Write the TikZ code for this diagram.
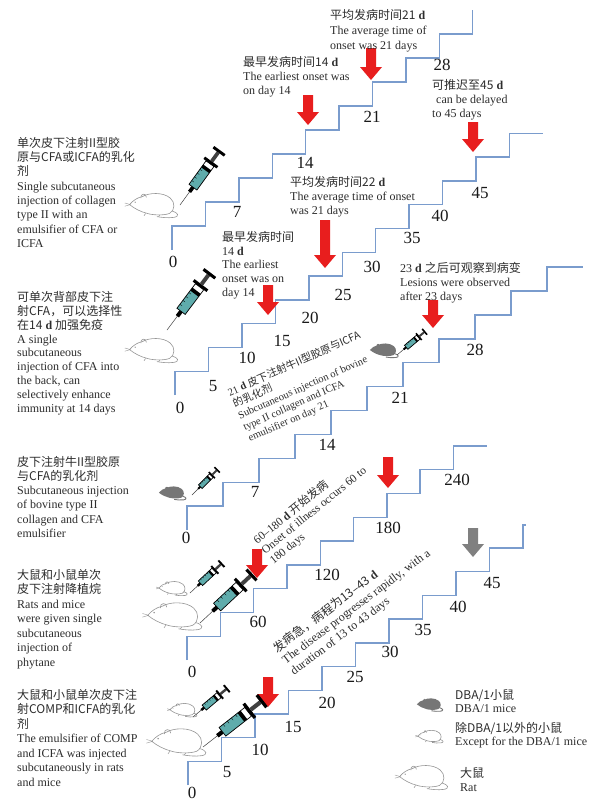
\documentclass[tikz,border=0pt]{standalone}
\usepackage{fontspec}
\setmainfont{Liberation Serif}
\newfontfamily\cjkfont{Noto Sans CJK SC}
\newcommand\zhtext[1]{{\cjkfont #1}}

\definecolor{stairblue}{RGB}{122,156,205}
\definecolor{arrowred}{RGB}{232,30,30}
\definecolor{arrowgray}{RGB}{128,128,128}
\definecolor{txtgray}{RGB}{45,45,45}
\definecolor{numcol}{RGB}{25,25,25}
\definecolor{syrteal}{RGB}{95,172,172}
\definecolor{mouseline}{RGB}{150,150,150}
\definecolor{mousedark}{RGB}{118,118,118}

\tikzset{
  stair/.style={draw=stairblue, line width=1.4pt, line join=miter},
  txt/.style={font=\fontsize{12}{14.3}\selectfont, text=txtgray, inner sep=0pt, anchor=north west, align=left},
  rottxt/.style={font=\fontsize{10.5}{12.5}\selectfont, text=txtgray, inner sep=0pt, anchor=north west, align=left},
  num/.style={font=\fontsize{17}{17}\selectfont, text=numcol, inner sep=0pt},
  blockarrow/.pic={
    \fill (-5,0) -- (5,0) -- (5,#1-13) -- (11,#1-13) -- (0,#1) -- (-11,#1-13) -- (-5,#1-13) -- cycle;
  },
  syringe/.pic={
    \draw[line width=0.5pt, black!75] (0,0) -- (15,0);
    \fill[black] (14,-1.6) rectangle (19,1.6);
    \fill[syrteal] (19,-4.2) rectangle (38,4.2);
    \fill[white] (38,-4.2) rectangle (44,4.2);
    \foreach \t in {23,27,31,35} \draw[black, line width=0.3pt] (\t,-4.2) -- (\t,-2);
    \draw[black, line width=0.7pt] (19,-4.2) rectangle (44,4.2);
    \fill[black] (37,-4.2) rectangle (40,4.2);
    \fill[black] (44,-7) rectangle (46.5,7);
    \fill[black!75] (46.5,-1.6) rectangle (56,1.6);
    \fill[black] (56,-6) rectangle (58.5,6);
  },
  ratshape/.pic={
    \draw[mouseline, fill=white, line width=0.6pt] (2,17) .. controls (6,12) and (12,8) .. (18,7)
      .. controls (26,2) and (44,1) .. (53,9) .. controls (59,14) and (59,24) .. (52,28)
      .. controls (44,31) and (30,30) .. (24,28) .. controls (16,26) and (8,22) .. (2,17) -- cycle;
    \draw[mouseline, line width=0.6pt] (16,9) .. controls (15,3) and (23,2) .. (23,8);
    \fill[mouseline] (9,14) circle (0.9);
    \draw[mouseline, line width=0.4pt] (3,17) -- (-4,15) (3,17) -- (-4,19);
    \draw[mouseline, line width=0.6pt] (55,25) .. controls (63,27) and (65,32) .. (57,33)
      .. controls (50,34) and (42,33) .. (36,32);
    \draw[mouseline, line width=0.5pt] (22,28) -- (20,31) (40,30) -- (38,32);
  },
  darkmouse/.pic={
    \fill[mousedark] (2,17) .. controls (6,12) and (12,8) .. (18,7)
      .. controls (26,2) and (44,1) .. (53,9) .. controls (59,14) and (59,24) .. (52,28)
      .. controls (44,31) and (30,30) .. (24,28) .. controls (16,26) and (8,22) .. (2,17) -- cycle;
    \fill[mousedark] (16,9) .. controls (15,3) and (23,2) .. (23,8) -- cycle;
    \draw[mousedark, line width=0.9pt] (55,25) .. controls (63,27) and (65,32) .. (57,33)
      .. controls (50,34) and (42,33) .. (36,32);
  }
}

\begin{document}
\begin{tikzpicture}[x=1pt,y=-1pt]
\useasboundingbox (0,0) rectangle (592,803);
\fill[white] (0,0) rectangle (592,803);

% ---------- staircases ----------
\draw[stair] (172,250) foreach \k in {1,...,9}{ -- ++(0,-24) -- ++(33.4,0) } -- ++(0,-24);
\draw[stair] (175,395) foreach \k in {1,...,11}{ -- ++(0,-23.8) -- ++(33.45,0) };
\draw[stair] (187,530) foreach \k in {1,...,11}{ -- ++(0,-23.9) -- ++(36,0) };
\draw[stair] (187,660) foreach \k in {1,...,9}{ -- ++(0,-23.8) -- ++(33.3,0) };
\draw[stair] (188,785) foreach \k in {1,...,10}{ -- ++(0,-23.7) -- ++(33.5,0) } -- ++(0,-23) -- ++(3,0);

% ---------- day labels ----------
\foreach \lab/\px/\py in {0/173/262, 7/237/212, 14/305/163, 21/372/117, 28/442/65}
  \node[num] (sa-\lab) at (\px,\py) {\lab};
\foreach \lab/\px/\py in {0/180/408, 5/213/386, 10/247/358, 15/282/341, 20/310/318, 25/343/295, 30/372/267, 35/412/238, 40/440/216, 45/480/193}
  \node[num] (sb-\lab) at (\px,\py) {\lab};
\foreach \lab/\px/\py in {0/186/538, 7/255/492, 14/327/445, 21/400/398, 28/475/350}
  \node[num] (sc-\lab) at (\px,\py) {\lab};
\foreach \lab/\px/\py in {0/192/672, 60/258/622, 120/327/575, 180/388/528, 240/457/480}
  \node[num] (sd-\lab) at (\px,\py) {\lab};
\foreach \lab/\px/\py in {0/192/793, 5/227/772, 10/260/750, 15/293/727, 20/327/703, 25/355/677, 30/390/652, 35/423/630, 40/458/607, 45/492/583}
  \node[num] (se-\lab) at (\px,\py) {\lab};

% ---------- arrows ----------
\pic[color=arrowred] at (308,95) {blockarrow=30};
\pic[color=arrowred] at (371,48) {blockarrow=32};
\pic[color=arrowred] at (473,122) {blockarrow=30};
\pic[color=arrowred] at (325,220) {blockarrow=48};
\pic[color=arrowred] at (268,285) {blockarrow=30};
\pic[color=arrowred] at (433,300) {blockarrow=28};
\pic[color=arrowred] at (388,457) {blockarrow=31};
\pic[color=arrowred] at (257,549) {blockarrow=29};
\pic[color=arrowgray] at (473,528) {blockarrow=29};
\pic[color=arrowred] at (268,677) {blockarrow=30};

% ---------- animals ----------
\pic[scale=0.8] at (128,191) {ratshape};
\pic[scale=0.8] at (128,336) {ratshape};
\pic[scale=0.45] at (158,485) {darkmouse};
\pic[scale=0.47] at (369,342) {darkmouse};
\pic[scale=0.47] at (158,580) {ratshape};
\pic[scale=0.9] at (146,600) {ratshape};
\pic[scale=0.45] at (169,702) {ratshape};
\pic[scale=0.9] at (150,726) {ratshape};

% ---------- syringes ----------
\pic[rotate=54, scale=1.16] at (180,205) {syringe};
\pic[rotate=53, scale=1.23] at (167,330) {syringe};
\pic[rotate=45, scale=0.62] at (192,495) {syringe};
\pic[rotate=40, scale=0.63] at (397,355) {syringe};
\pic[rotate=43, scale=0.75] at (190,593) {syringe};
\pic[rotate=43, scale=1.23] at (200,623) {syringe};
\pic[rotate=40, scale=0.77] at (193,717) {syringe};
\pic[rotate=38, scale=1.3] at (203,747) {syringe};

% ---------- left captions ----------
\node[txt] (cap1) at (17,137) {\zhtext{单次皮下注射II型胶}\\\zhtext{原与CFA或ICFA的乳化}\\\zhtext{剂}\\Single subcutaneous\\injection of collagen\\type II with an\\emulsifier of CFA or\\ICFA};
\node[txt, font=\fontsize{12}{13.9}\selectfont] (cap2) at (17,291) {\zhtext{可单次背部皮下注}\\\zhtext{射CFA，可以选择性}\\\zhtext{在14} \textbf{d} \zhtext{加强免疫}\\A single\\subcutaneous\\injection of CFA into\\the back, can\\selectively enhance\\immunity at 14 days};
\node[txt, font=\fontsize{12}{14.2}\selectfont] (cap3) at (17,456) {\zhtext{皮下注射牛II型胶原}\\\zhtext{与CFA的乳化剂}\\Subcutaneous injection\\of bovine type II\\collagen and CFA\\emulsifier};
\node[txt, font=\fontsize{12}{14.5}\selectfont] (cap4) at (17,569) {\zhtext{大鼠和小鼠单次}\\\zhtext{皮下注射降植烷}\\Rats and mice\\were given single\\subcutaneous\\injection of\\phytane};
\node[txt, font=\fontsize{12}{14.5}\selectfont] (cap5) at (17,689) {\zhtext{大鼠和小鼠单次皮下注}\\\zhtext{射COMP和ICFA的乳化}\\\zhtext{剂}\\The emulsifier of COMP\\and ICFA was injected\\subcutaneously in rats\\and mice};

% ---------- onset notes ----------
\node[txt, font=\fontsize{12}{15}\selectfont] (noteA) at (330,9) {\zhtext{平均发病时间21} \textbf{d}\\The average time of\\onset was 21 days};
\node[txt] (noteB) at (243,56) {\zhtext{最早发病时间14} \textbf{d}\\The earliest onset was\\on day 14};
\node[txt, font=\fontsize{12}{14}\selectfont] (noteC) at (432,79) {\zhtext{可推迟至45} \textbf{d}\\\hspace{4pt}can be delayed\\to 45 days};
\node[txt] (noteD) at (290,176) {\zhtext{平均发病时间22} \textbf{d}\\The average time of onset\\was 21 days};
\node[txt, font=\fontsize{12}{13.8}\selectfont] (noteE) at (222,231) {\zhtext{最早发病时间}\\14 \textbf{d}\\The earliest\\onset was on\\day 14};
\node[txt, font=\fontsize{12}{14}\selectfont] (noteF) at (400,262) {23 \textbf{d} \zhtext{之后可观察到病变}\\Lesions were observed\\after 23 days};

% ---------- slanted notes ----------
\node[rottxt, rotate=24] (slantA) at (226,388) {21 \textbf{d} \zhtext{皮下注射牛II型胶原与ICFA}\\\zhtext{的乳化剂}\\Subcutaneous injection of bovine\\type II collagen and ICFA\\emulsifier on day 21};
\node[rottxt, rotate=39, font=\fontsize{11.5}{12.8}\selectfont] (slantB) at (251,537) {60–180 \textbf{d} \zhtext{开始发病}\\Onset of illness occurs 60 to\\180 days};
\node[rottxt, rotate=37, font=\fontsize{12}{14}\selectfont] (slantC) at (271,645) {\zhtext{发病急，病程为13–43} \textbf{d}\\The disease progresses rapidly, with a\\duration of 13 to 43 days};

% ---------- legend ----------
\pic[scale=0.43] at (416,697) {darkmouse};
\pic[scale=0.42] at (417,729) {ratshape};
\pic[scale=0.8] at (398,763) {ratshape};
\node[txt, font=\fontsize{12}{13.5}\selectfont] (legA) at (455,689) {\zhtext{DBA/1小鼠}\\DBA/1 mice};
\node[txt, font=\fontsize{12}{13.5}\selectfont] (legB) at (455,722) {\zhtext{除DBA/1以外的小鼠}\\Except for the DBA/1 mice};
\node[txt, font=\fontsize{12}{14.5}\selectfont] (legC) at (460,767) {\zhtext{大鼠}\\Rat};
\end{tikzpicture}
\end{document}
